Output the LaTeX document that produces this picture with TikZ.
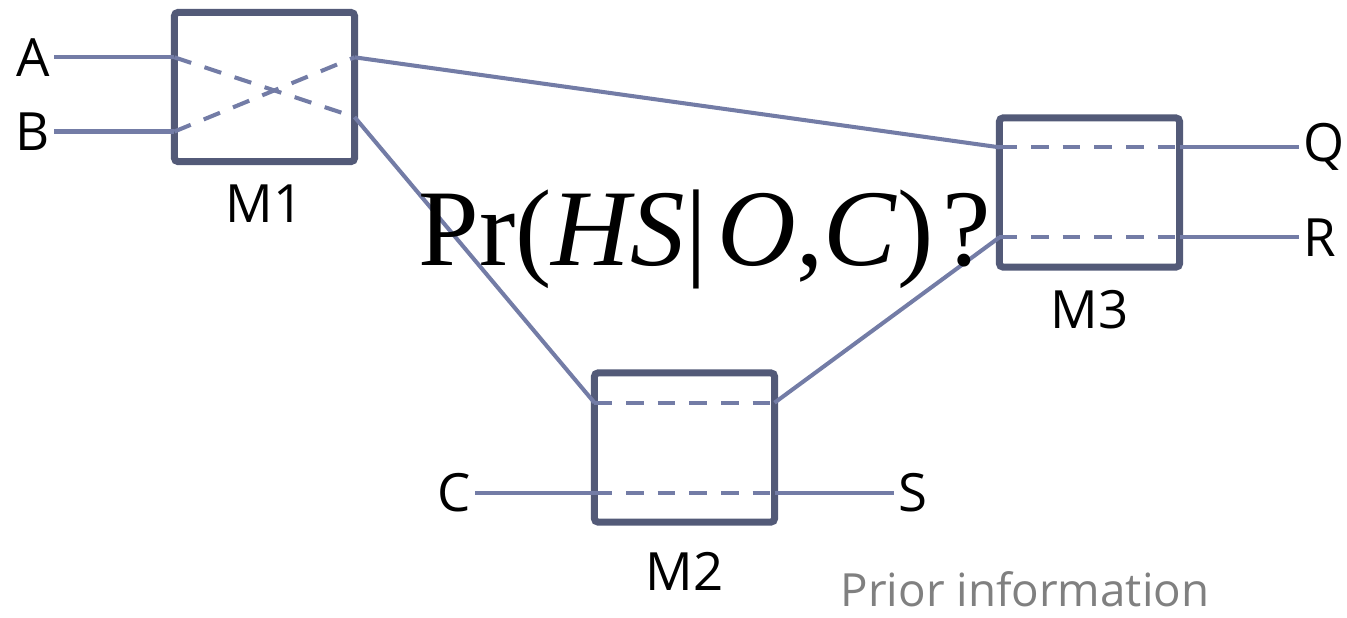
\documentclass[tikz,border=0pt]{standalone}
\usepackage{fontspec}
\setmainfont{Open Sans}
\newfontfamily\formulafont{Liberation Serif}
\usetikzlibrary{positioning}
\definecolor{mBorder}{RGB}{83,90,120}
\definecolor{mWire}{RGB}{115,124,166}
\definecolor{mGrey}{RGB}{128,128,128}

\begin{document}
\begin{tikzpicture}[
  x=0.01cm, y=-0.01cm,
  mbox/.style={draw=mBorder, line width=2pt, rounded corners=1pt, outer sep=0pt,
               inner sep=0pt, minimum width=1.8cm, minimum height=1.49cm},
  wire/.style={draw=mWire, line width=1.15pt},
  inwire/.style={wire, dash pattern=on 5pt off 4pt},
  port/.style={font=\fontsize{15}{15}\selectfont, inner sep=1pt},
  mlabel/.style={font=\fontsize{15}{15}\selectfont, inner sep=0pt},
]
  \useasboundingbox (0,0) rectangle (1347,617);

  % modules
  \node[mbox] (m1) at (264.5,87) {};
  \node[mbox] (m2) at (684.5,447.5) {};
  \node[mbox] (m3) at (1089.5,192.5) {};

  \node[mlabel, below=0.23cm of m1] (m1name) {M1};
  \node[mlabel, below=0.3cm of m2]  (m2name) {M2};
  \node[mlabel, below=0.23cm of m3] (m3name) {M3};

  % ports on the module borders
  \coordinate (m1inA)  at (m1.west |- 0,57.3);
  \coordinate (m1inB)  at (m1.west |- 0,131.5);
  \coordinate (m1outA) at (m1.east |- 0,57.3);
  \coordinate (m1outB) at (m1.east |- 0,117);
  \coordinate (m2inT)  at (m2.west |- 0,402.7);
  \coordinate (m2outT) at (m2.east |- 0,402.7);
  \coordinate (m2inC)  at (m2.west |- 0,492.7);
  \coordinate (m2outC) at (m2.east |- 0,492.7);
  \coordinate (m3inQ)  at (m3.west |- 0,147.3);
  \coordinate (m3outQ) at (m3.east |- 0,147.3);
  \coordinate (m3inR)  at (m3.west |- 0,237.3);
  \coordinate (m3outR) at (m3.east |- 0,237.3);

  % terminals
  \node[port, anchor=east] (A) at (54,57.3) {A};
  \node[port, anchor=east] (B) at (54,131.5) {B};
  \node[port, anchor=east] (C) at (475,492.7) {C};
  \node[port, anchor=west] (S) at (894,492.7) {S};
  \node[port, anchor=west] (Q) at (1299,147.3) {Q};
  \node[port, anchor=west] (R) at (1299,237.3) {R};

  % wires
  \draw[wire] (A.east) -- (m1inA);
  \draw[wire] (B.east) -- (m1inB);
  \draw[inwire] (m1inA) -- (m1outB);
  \draw[inwire] (m1inB) -- (m1outA);
  \draw[wire] (m1outA) -- (m3inQ);
  \draw[wire] (m1outB) -- (m2inT);
  \draw[inwire] (m2inT) -- (m2outT);
  \draw[wire] (m2outT) -- (m3inR);
  \draw[wire] (C.east) -- (m2inC);
  \draw[inwire] (m2inC) -- (m2outC);
  \draw[wire] (m2outC) -- (S.west);
  \draw[inwire] (m3inQ) -- (m3outQ);
  \draw[wire] (m3outQ) -- (Q.west);
  \draw[inwire] (m3inR) -- (m3outR);
  \draw[wire] (m3outR) -- (R.west);

  % texts
  \node[anchor=base west, inner sep=0pt, font=\formulafont\fontsize{31}{31}\selectfont] (prob)
    at (418,265) {Pr(\textit{HS}|\hspace{0.1em}\textit{O},\textit{C})\hspace{0.08em}?};
  \node[anchor=base west, inner sep=0pt, text=mGrey, font=\fontsize{13}{13}\selectfont] (prior)
    at (840,606) {Prior information};
\end{tikzpicture}
\end{document}
